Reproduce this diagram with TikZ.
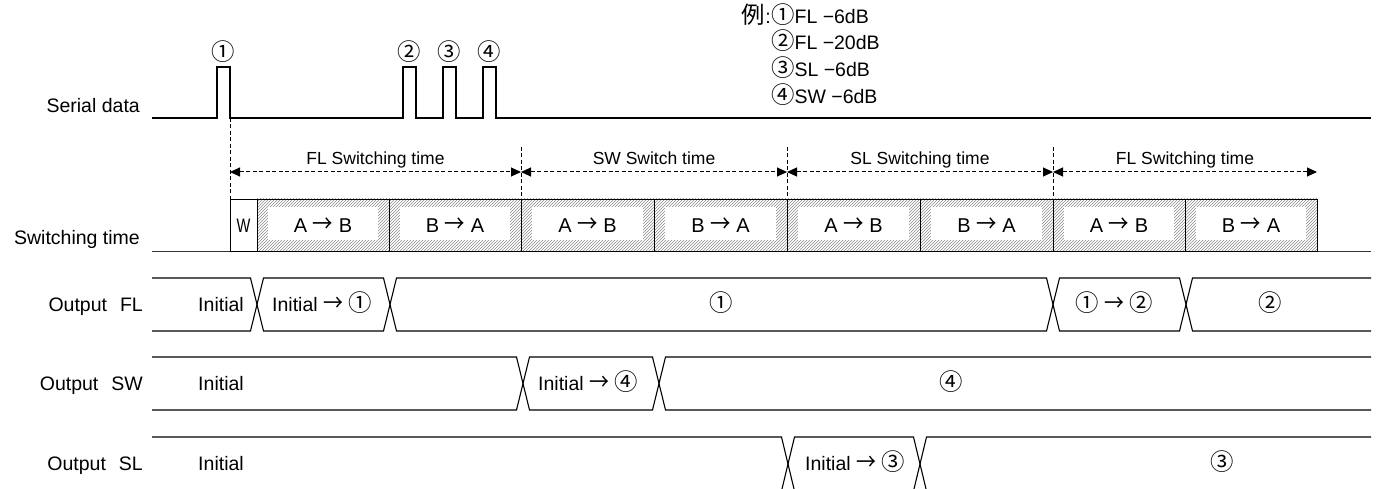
\documentclass[tikz,border=0pt]{standalone}
\usepackage{fontspec}
\setmainfont{Liberation Sans}
\newfontfamily\jp[Scale=1.2]{Noto Sans CJK JP}
\usetikzlibrary{patterns,arrows.meta}
\newcommand{\cn}[1]{{\jp #1}}
\newcommand{\ar}{{\jp\scalebox{0.85}[1]{→}}}

\begin{document}
\begin{tikzpicture}[x=1pt,y=-1pt,
        sig/.style={line width=1.1pt},
        dline/.style={line width=1pt, dash pattern=on 4pt off 2.5pt},
        dimarrow/.style={dline, {Triangle[length=10pt,width=9pt]}-{Triangle[length=10pt,width=9pt]}},
        txt/.style={font=\fontsize{19.5}{23}\selectfont, inner sep=0pt},
        small/.style={font=\fontsize{17.5}{21}\selectfont, inner sep=0pt},
        boxtxt/.style={font=\fontsize{20}{24}\selectfont, inner sep=0pt},
        hatch/.style={pattern=north east lines, pattern color=black!45}]
        \useasboundingbox (0,0) rectangle (1378,489);
        %SERIAL DATA
        \node[txt, anchor=base east] (sdlabel) at (140,113) {Serial data};
        \draw[sig] (152,118) -- (217,118) -- (217,67) -- (230,67) -- (230,118) -- (403,118) -- (403,67) -- (416,67) -- (416,118) -- (443,118) -- (443,67) -- (456,67) -- (456,118) -- (483,118) -- (483,67) -- (496,67) -- (496,118) -- (1371,118);
        \node[txt] (p1) at (223.5,52) {\cn{①}};
        \node[txt] (p2) at (409.5,52) {\cn{②}};
        \node[txt] (p3) at (449.5,52) {\cn{③}};
        \node[txt] (p4) at (489.5,52) {\cn{④}};
        %LEGEND
        \node[txt, anchor=base east] (ex) at (771,24) {\cn{例}:};
        \node[txt, anchor=base west] (ex1) at (771,24) {\cn{①}FL −6dB};
        \node[txt, anchor=base west] (ex2) at (771,50) {\cn{②}FL −20dB};
        \node[txt, anchor=base west] (ex3) at (771,77) {\cn{③}SL −6dB};
        \node[txt, anchor=base west] (ex4) at (771,104) {\cn{④}SW −6dB};
        %KOORDINAT
        \coordinate (t0) at (230,172);
        \coordinate (t1) at (521,172);
        \coordinate (t2) at (787,172);
        \coordinate (t3) at (1053,172);
        \coordinate (t4) at (1317,172);
        %GARIS BANTU
        \draw[dline] (230,118) -- (230,199);
        \draw[dline] (521,147) -- (521,199);
        \draw[dline] (787,147) -- (787,199);
        \draw[dline] (1053,147) -- (1053,199);
        \draw[dimarrow] (t0) -- node[small, anchor=base, yshift=7pt] (d1) {FL Switching time} (t1);
        \draw[dimarrow] (t1) -- node[small, anchor=base, yshift=7pt] (d2) {SW Switch time} (t2);
        \draw[dimarrow] (t2) -- node[small, anchor=base, yshift=7pt] (d3) {SL Switching time} (t3);
        \draw[dimarrow] (t3) -- node[small, anchor=base, yshift=7pt] (d4) {FL Switching time} (t4);
        %SWITCHING TIME
        \node[txt, anchor=base east] (stlabel) at (140,244) {Switching time};
        \draw[line width=1pt, black!80] (152,251) -- (1371,251);
        \draw[line width=0.8pt, fill=white] (230,199) rectangle (257,251);
        \node[txt, anchor=base] (w) at (243.5,233) {\scalebox{0.75}[1]{W}};
        \foreach \xa/\xb/\sw in {257/389/{A \ar{} B}, 389/521/{B \ar{} A}, 521/654/{A \ar{} B}, 654/787/{B \ar{} A}, 787/920/{A \ar{} B}, 920/1053/{B \ar{} A}, 1053/1185/{A \ar{} B}, 1185/1317/{B \ar{} A}}{
            \fill[hatch] (\xa,199) rectangle (\xb,251);
            \fill[white] (\xa+11,207) rectangle (\xb-11,240);
            \draw[line width=0.8pt] (\xa,199) rectangle (\xb,251);
            \node[boxtxt, anchor=base] (sw\xa) at ({(\xa+\xb)/2},233) {\sw};
        }
        %OUTPUT FL
        \node[txt, anchor=base east] (fllabel) at (143,311) {Output\hspace{13pt}FL};
        \draw[sig] (152,278) -- (250.5,278) -- (263.5,331) -- (383.5,331) -- (396.5,278) -- (1046.5,278) -- (1059.5,331) -- (1179.5,331) -- (1192.5,278) -- (1371,278);
        \draw[sig] (152,331) -- (250.5,331) -- (263.5,278) -- (383.5,278) -- (396.5,331) -- (1046.5,331) -- (1059.5,278) -- (1179.5,278) -- (1192.5,331) -- (1371,331);
        \node[txt, anchor=base] (fl0) at (221,311) {Initial};
        \node[txt, anchor=base] (fl1) at (322,311) {Initial \ar{} \cn{①}};
        \node[txt, anchor=base] (fl2) at (721,311) {\cn{①}};
        \node[txt, anchor=base] (fl3) at (1114,311) {\cn{①} \ar{} \cn{②}};
        \node[txt, anchor=base] (fl4) at (1270,311) {\cn{②}};
        %OUTPUT SW
        \node[txt, anchor=base east] (swlabel) at (143,390) {Output\hspace{13pt}SW};
        \draw[sig] (152,357) -- (516.5,357) -- (529.5,410) -- (652.5,410) -- (665.5,357) -- (1371,357);
        \draw[sig] (152,410) -- (516.5,410) -- (529.5,357) -- (652.5,357) -- (665.5,410) -- (1371,410);
        \node[txt, anchor=base] (sw0) at (221,390) {Initial};
        \node[txt, anchor=base] (sw1) at (588,390) {Initial \ar{} \cn{④}};
        \node[txt, anchor=base] (sw2) at (951,390) {\cn{④}};
        %OUTPUT SL
        \node[txt, anchor=base east] (sllabel) at (143,470) {Output\hspace{13pt}SL};
        \draw[sig] (152,437) -- (781.5,437) -- (794.5,491) -- (913.5,491) -- (926.5,437) -- (1371,437);
        \draw[sig] (152,491) -- (781.5,491) -- (794.5,437) -- (913.5,437) -- (926.5,491) -- (1371,491);
        \node[txt, anchor=base] (sl0) at (221,470) {Initial};
        \node[txt, anchor=base] (sl1) at (855,470) {Initial \ar{} \cn{③}};
        \node[txt, anchor=base] (sl2) at (1222,470) {\cn{③}};
    \end{tikzpicture}
\end{document}
